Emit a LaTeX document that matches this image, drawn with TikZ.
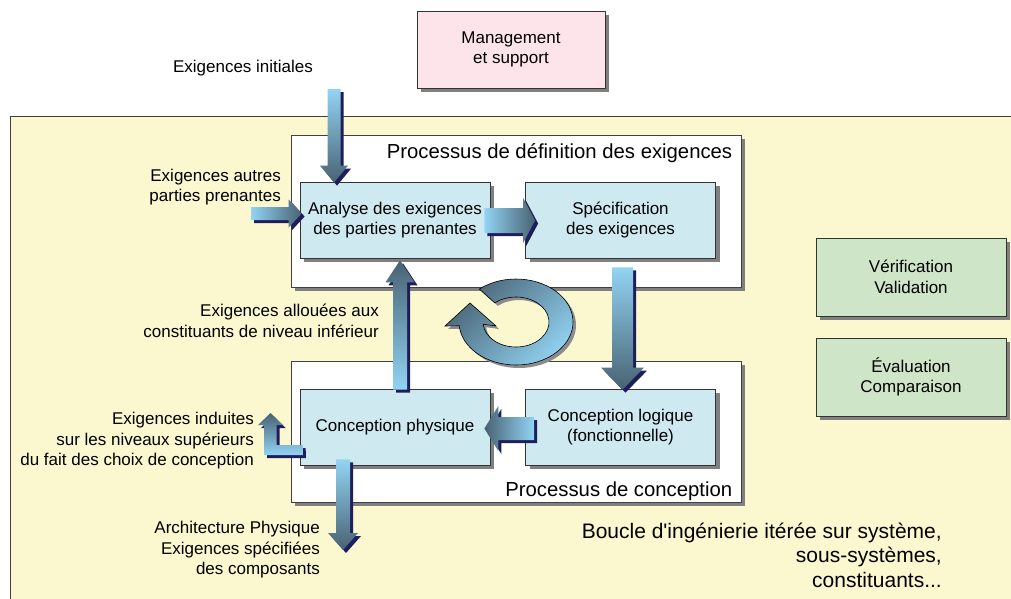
\documentclass[tikz,border=0pt]{standalone}
\usepackage{fontspec}
\setmainfont{Liberation Sans}[Ligatures=TeXOff]
\usepackage{tikz}
\usetikzlibrary{calc,shadows,positioning}

\definecolor{bgyellow}{RGB}{251,247,206}
\definecolor{pinkbox}{RGB}{252,228,234}
\definecolor{cyanbox}{RGB}{206,234,240}
\definecolor{greenbox}{RGB}{207,229,199}
\definecolor{arrlight}{RGB}{146,212,244}
\definecolor{arrdark}{RGB}{72,98,114}
\definecolor{navy}{RGB}{30,30,92}

\newcommand{\lblfont}{\fontsize{17}{20.5}\selectfont}
\newcommand{\bigfont}{\fontsize{21}{24.5}\selectfont}
\newcommand{\titlefont}{\fontsize{20.3}{24}\selectfont}

\newcommand{\blockarrow}[6]{%
	\coordinate (ba-s) at (#2);
	\coordinate (ba-e) at (#3);
	\coordinate (ba-h) at ($(ba-e)!#6!(ba-s)$);
	\path[#1] ($(ba-s)!#4!90:(ba-e)$) -- ($(ba-h)!#4!-90:(ba-s)$) -- ($(ba-h)!#5!-90:(ba-s)$) -- (ba-e) -- ($(ba-h)!#5!90:(ba-s)$) -- ($(ba-h)!#4!90:(ba-s)$) -- ($(ba-s)!#4!-90:(ba-e)$) -- cycle;
}

\tikzset{
	boxshadow/.style={drop shadow={shadow xshift=4pt, shadow yshift=-4pt, fill=black!50, opacity=1}},
	framebox/.style={draw=black!75, fill=white, line width=0.8pt, minimum width=450pt, boxshadow},
	actbox/.style={draw=black!80, fill=cyanbox, line width=0.7pt, minimum width=190pt, minimum height=76pt, inner sep=1pt, align=center, font=\lblfont, boxshadow},
	sidebox/.style={draw=black!80, line width=0.7pt, minimum width=190pt, minimum height=78pt, align=center, font=\lblfont, boxshadow},
	lbl/.style={inner sep=0pt, align=right, font=\lblfont},
	titlelbl/.style={inner sep=0pt, anchor=east, font=\titlefont},
	barrow/.style={drop shadow={shadow xshift=3pt, shadow yshift=-3pt, fill=navy, opacity=1}},
	arrowdown/.style={barrow, top color=arrlight, bottom color=arrdark},
	arrowup/.style={barrow, top color=arrdark, bottom color=arrlight},
	arrowright/.style={barrow, left color=arrlight, right color=arrdark},
	arrowleft/.style={barrow, left color=arrdark, right color=arrlight},
	ringarrow/.style={draw=black, line width=0.6pt, top color=arrdark, bottom color=arrlight, shading angle=45, drop shadow={shadow xshift=3pt, shadow yshift=-3pt, fill=black!45, opacity=1}}
}

\begin{document}
\begin{tikzpicture}[x=1pt, y=-1pt]
	
	\clip (0,0) rectangle (1011,598);
	\fill[white] (0,0) rectangle (1011,598);
	\path[draw=black!75, fill=bgyellow, line width=1pt] (10,116) rectangle (1040,640);
	
	\node[framebox, minimum height=152pt] (defproc) at (516,211) {};
	\node[framebox, minimum height=141pt] (conproc) at (516,431.5) {};
	\node[titlelbl] (deftitle) at ($(defproc.north east)+(-9,19)$) {Processus de définition des exigences};
	\node[titlelbl] (contitle) at ($(conproc.south east)+(-9,-11)$) {Processus de conception};
	
	\node[sidebox, fill=pinkbox, minimum width=188pt, minimum height=77pt] (mgmt) at (511,49.5) {Management\\et support};
	\node[actbox] (anl) at (395,220) {Analyse des exigences\\des parties prenantes};
	\node[actbox] (spec) at (620.5,220) {Spécification\\des exigences};
	\node[actbox] (phys) at (395,427) {Conception physique};
	\node[actbox] (logi) at (620.5,427) {Conception logique\\(fonctionnelle)};
	\node[sidebox, fill=greenbox] (verif) at (911,277) {Vérification\\Validation};
	\node[sidebox, fill=greenbox] (eval) at (911,377) {Évaluation\\Comparaison};
	
	\coordinate (initin) at (334,89);
	\coordinate (othin) at (251,213.5);
	\coordinate (archout) at (343,550);
	\coordinate (indout) at (270.5,413);
	\coordinate (loopc) at (516,322);
	
	\blockarrow{arrowdown}{initin}{$(anl.north -| initin)+(0,1)$}{6.5pt}{14pt}{17pt}
	\blockarrow{arrowright}{othin}{$(anl.west |- othin)+(2,0)$}{6.5pt}{14pt}{13pt}
	\blockarrow{arrowright}{$(anl.east)+(-6,0.5)$}{$(spec.west)+(10,0.5)$}{12.5pt}{22.5pt}{12pt}
	\blockarrow{arrowdown}{$(spec.south)+(2,9)$}{$(logi.north)+(2,1)$}{10.5pt}{21.5pt}{22pt}
	\blockarrow{arrowleft}{$(logi.west)+(9,1.5)$}{$(phys.east)+(-6,1.5)$}{11.5pt}{22.5pt}{14pt}
	\blockarrow{arrowup}{$(phys.north)+(5,1)$}{$(anl.south)+(5,2)$}{7pt}{14.5pt}{22pt}
	\blockarrow{arrowdown}{$(phys.south -| archout)+(0,-6)$}{archout}{7pt}{15pt}{17pt}
	\path[arrowup] ($(phys.west)+(3,18)$) -- ++(-26,0) -- ++(0,-20) -- ++(6,0) -- (indout) -- ++(-12.5,12) -- ++(6,0) -- ++(0,30) -- ++(39,0) -- cycle;
	
	\path[ringarrow] ($(loopc)+(-130:57 and 43)$) arc[start angle=-130, end angle=175, x radius=57, y radius=43] -- ($(loopc)+(-71,4)$) -- ($(loopc)+(-46,-19)$) -- ($(loopc)+(-20,4)$) -- ($(loopc)+(175:33 and 25)$) arc[start angle=175, end angle=-130, x radius=33, y radius=25] -- cycle;
	
	\node[lbl] (initlbl) at (243,68) {Exigences initiales};
	\node[lbl, anchor=east] (othlbl) at (281,187) {Exigences autres\\parties prenantes};
	\node[lbl, anchor=east] (alloclbl) at (379,321) {Exigences allouées aux\\constituants de niveau inférieur};
	\node[lbl, anchor=east] (indlbl) at (254,441) {Exigences induites\\sur les niveaux supérieurs\\du fait des choix de conception};
	\node[lbl, anchor=east] (archlbl) at (320,550) {Architecture Physique\\Exigences spécifiées\\des composants};
	\node[lbl, font=\bigfont, anchor=east] (looplbl) at (942,555) {Boucle d'ingénierie itérée sur système,\\sous-systèmes,\\constituants...};
	
\end{tikzpicture}
\end{document}
